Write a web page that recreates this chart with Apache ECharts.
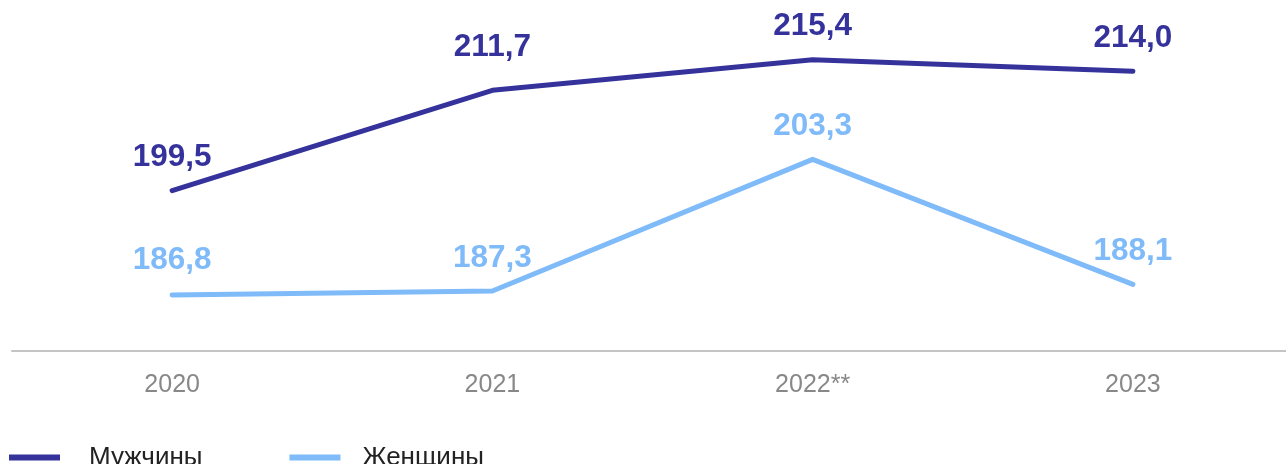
<!DOCTYPE html>
<html>
<head>
<meta charset="utf-8">
<script src="https://cdn.jsdelivr.net/npm/echarts@6/dist/echarts.min.js"></script>
<style>
  html, body { margin: 0; padding: 0; background: #fff; }
  #chart { width: 1286px; height: 464px; }
</style>
</head>
<body>
<div id="chart"></div>
<script>
const years = ["2020", "2021", "2022**", "2023"];
const men = [199.5, 211.7, 215.4, 214.0];
const women = [186.8, 187.3, 203.3, 188.1];
const seriesNames = ["Мужчины", "Женщины"];

const font = "'Liberation Sans', Arial, sans-serif";
const fmt = (p) => p.value.toFixed(1).replace(".", ",");

// labels were nudged by hand in the source, so a few sit a bit higher
const makeSeries = (name, data, color, lift) => ({
  name: name,
  type: "line",
  data: data.map((v, i) =>
    lift[i] ? { value: v, label: { distance: 17 + lift[i] } } : v
  ),
  symbol: "circle",
  symbolSize: 0.1,
  color: color,
  lineStyle: { width: 5, cap: "round", join: "round" },
  label: {
    show: true,
    position: "top",
    distance: 17,
    formatter: fmt,
    color: color,
    fontSize: 31.5,
    fontWeight: "bold",
    fontFamily: font,
  },
});

const chart = echarts.init(document.getElementById("chart"));
chart.setOption({
  animation: false,
  legend: {
    left: 9,
    top: 441,
    padding: 0,
    itemWidth: 51,
    itemHeight: 6,
    itemGap: 87,
    icon: "rect",
    textStyle: {
      fontFamily: font,
      fontSize: 26,
      lineHeight: 26,
      color: "#222",
      padding: [7, 0, 0, 24],
    },
    data: [
      { name: seriesNames[0] },
      { name: seriesNames[1], textStyle: { padding: [7, 0, 0, 17] } },
    ],
  },
  grid: {
    left: 12,
    width: 1281,
    top: 22,
    bottom: 113,
    outerBoundsMode: "none",
  },
  xAxis: {
    type: "category",
    data: years,
    axisTick: { show: false },
    axisLine: { lineStyle: { color: "#c4c4c4", width: 2 } },
    axisLabel: { color: "#888", fontSize: 25, fontFamily: font, margin: 22 },
  },
  yAxis: {
    type: "value",
    min: 180,
    max: 220,
    show: false,
    splitLine: { show: false },
  },
  series: [
    makeSeries(seriesNames[0], men, "#35339b", [0, 10, 0, 0]),
    makeSeries(seriesNames[1], women, "#7fbaf9", [2, 0, 0, 0]),
  ],
});
</script>
</body>
</html>
